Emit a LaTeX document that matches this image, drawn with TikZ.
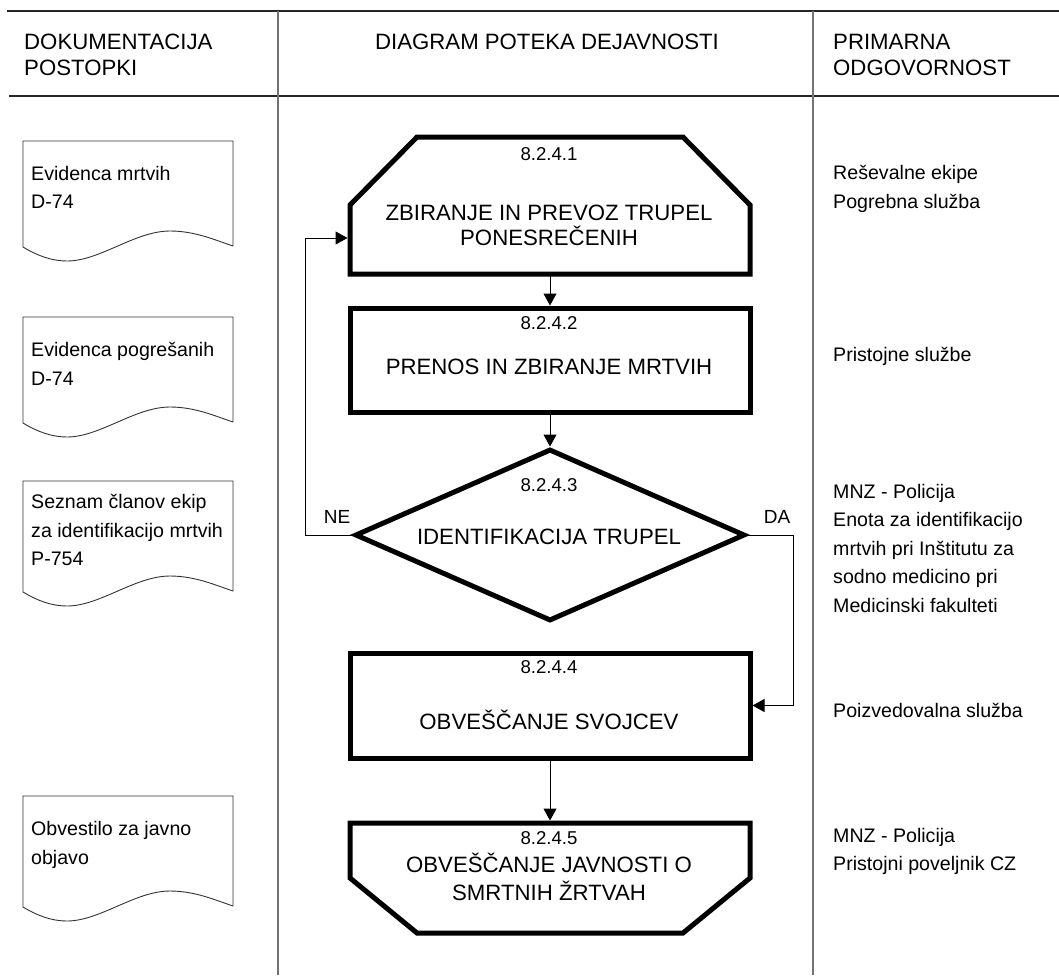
\documentclass[tikz,border=0pt]{standalone}
\usepackage{fontspec}
\setmainfont{Liberation Sans}
\usetikzlibrary{arrows.meta,shapes.geometric,calc,positioning}

\tikzset{
  tabline/.style={line width=1.3pt,black!85},
  colline/.style={line width=1.5pt,black!55},
  docline/.style={line width=0.9pt,black!80},
  heavy/.style={line width=5pt},
  flow/.style={line width=1pt,-{Triangle[length=12pt,width=13pt]}},
  hdtxt/.style={font=\fontsize{22.2}{26}\selectfont,align=left,inner sep=0pt},
  boxtxt/.style={font=\fontsize{22.2}{25}\selectfont,align=center,inner sep=0pt},
  numtxt/.style={font=\fontsize{18.6}{22}\selectfont,inner sep=0pt},
  yesno/.style={font=\fontsize{19}{22}\selectfont,inner sep=0pt},
  smtxt/.style={font=\fontsize{19.6}{28.5}\selectfont,align=left,inner sep=0pt,anchor=west},
  procbox/.style={draw,heavy,minimum width=400pt,inner sep=0pt},
  shapearea/.style={minimum width=400pt,inner sep=0pt,outer sep=0pt},
  decision/.style={draw,heavy,diamond,minimum width=390pt,minimum height=172pt,inner sep=0pt}
}

\begin{document}
\begin{tikzpicture}[x=1pt,y=-1pt]
  \useasboundingbox (0,0) rectangle (1059,975);

  % table
  \draw[tabline] (7,11) -- (1059,11);
  \draw[tabline] (9,96) -- (1059,96);
  \draw[colline] (278,11) -- (278,975);
  \draw[colline] (813,11) -- (813,975);

  \node[hdtxt,anchor=west] (hdoc) at (24,55) {DOKUMENTACIJA\\POSTOPKI};
  \node[hdtxt] (hdia) at (547,42) {DIAGRAM POTEKA DEJAVNOSTI};
  \node[hdtxt,anchor=west] (hodg) at (833,55) {PRIMARNA\\ODGOVORNOST};

  % documents
  \draw[docline] (23,141) -- (233,141) -- (233,246) .. controls (215,240) and (195,231) .. (170,231)
    .. controls (135,231) and (100,261) .. (67,261) .. controls (52,261) and (38,256) .. (23,247) -- cycle;
  \draw[docline] (23,317) -- (233,317) -- (233,422) .. controls (215,416) and (195,407) .. (170,407)
    .. controls (135,407) and (100,437) .. (67,437) .. controls (52,437) and (38,432) .. (23,423) -- cycle;
  \draw[docline] (23,481) -- (233,481) -- (233,591) .. controls (215,585) and (195,576) .. (170,576)
    .. controls (135,576) and (100,606) .. (67,606) .. controls (52,606) and (38,601) .. (23,592) -- cycle;
  \draw[docline] (23,796) -- (233,796) -- (233,906) .. controls (215,900) and (195,891) .. (170,891)
    .. controls (135,891) and (100,921) .. (67,921) .. controls (52,921) and (38,916) .. (23,907) -- cycle;

  \node[smtxt] (doca) at (31,187.5) {Evidenca mrtvih\\D-74};
  \node[smtxt] (docb) at (31,364) {Evidenca pogrešanih\\D-74};
  \node[smtxt] (docc) at (31,530) {Seznam članov ekip\\za identifikacijo mrtvih\\P-754};
  \node[smtxt] (docd) at (31,845) {Obvestilo za javno\\objavo};

  % flow
  \node[shapearea,minimum height=137pt] (zbir) at (550,205.5) {};
  \node[procbox,minimum height=104pt] (pren) at (550,360) {};
  \node[decision] (iden) at (550,535) {};
  \node[procbox,minimum height=105pt] (obvs) at (550,705.5) {};
  \node[shapearea,minimum height=110pt] (obvj) at (550,878) {};

  \draw[heavy] (zbir.south west) -- ($(zbir.north west)+(0,68)$) -- ($(zbir.north west)+(67,0)$)
    -- ($(zbir.north east)+(-67,0)$) -- ($(zbir.north east)+(0,68)$) -- (zbir.south east) -- cycle;
  \draw[heavy] (obvj.north west) -- (obvj.north east) -- ($(obvj.south east)+(0,-55)$)
    -- ($(obvj.south east)+(-67,0)$) -- ($(obvj.south west)+(67,0)$) -- ($(obvj.south west)+(0,-55)$) -- cycle;

  \node[numtxt] (numa) at (549,154) {8.2.4.1};
  \node[boxtxt] (txta) at (549,225.5) {ZBIRANJE IN PREVOZ TRUPEL\\PONESREČENIH};
  \node[numtxt] (numb) at (549,323) {8.2.4.2};
  \node[boxtxt] (txtb) at (549,367) {PRENOS IN ZBIRANJE MRTVIH};
  \node[numtxt] (numc) at (549,485) {8.2.4.3};
  \node[boxtxt] (txtc) at (549,537) {IDENTIFIKACIJA TRUPEL};
  \node[numtxt] (numd) at (549,667) {8.2.4.4};
  \node[boxtxt] (txtd) at (549,720) {OBVEŠČANJE SVOJCEV};
  \node[numtxt] (nume) at (549,838) {8.2.4.5};
  \node[boxtxt,font=\fontsize{22.2}{27.5}\selectfont] (txte) at (549,877) {OBVEŠČANJE JAVNOSTI O\\SMRTNIH ŽRTVAH};

  \draw[flow] (zbir.south) -- (pren.north);
  \draw[flow] (pren.south) -- (iden.north);
  \draw[flow,shorten >=2.5pt] (obvs.south) -- (obvj.north);
  \draw[flow,shorten >=2.5pt] (iden.west) -- ++(-47,0) |- ([yshift=36pt]zbir.south west);
  \draw[flow] (iden.east) -- ++(46,0) |- (obvs.east);

  \node[yesno] (ne) at (337,517) {NE};
  \node[yesno] (da) at (777,517) {DA};

  % responsibility
  \node[smtxt] (odga) at (833,189) {Reševalne ekipe\\Pogrebna služba};
  \node[smtxt] (odgb) at (833,356) {Pristojne službe};
  \node[smtxt] (odgc) at (833,548) {MNZ - Policija\\Enota za identifikacijo\\mrtvih pri Inštitutu za\\sodno medicino pri\\Medicinski fakulteti};
  \node[smtxt] (odgd) at (833,710) {Poizvedovalna služba};
  \node[smtxt] (odge) at (833,851.5) {MNZ - Policija\\Pristojni poveljnik CZ};
\end{tikzpicture}
\end{document}
